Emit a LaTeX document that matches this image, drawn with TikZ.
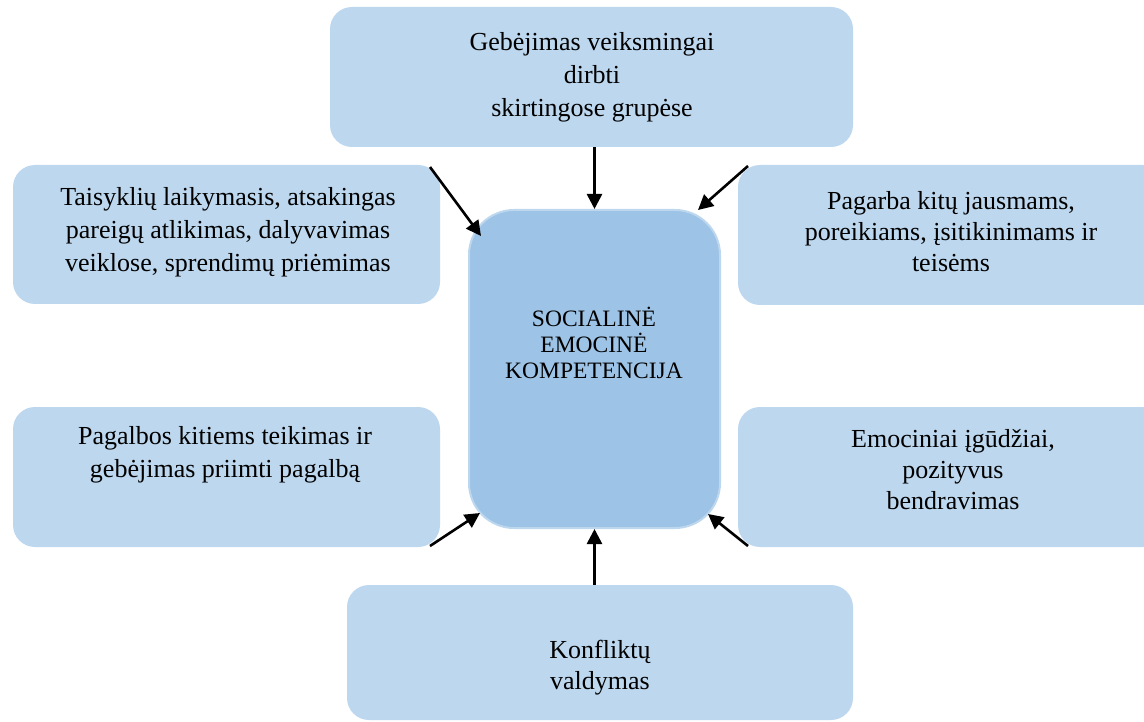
\documentclass[tikz,border=0pt]{standalone}
\usepackage{fontspec}
\setmainfont{Liberation Serif}
\usetikzlibrary{arrows.meta}
\definecolor{boxblue}{HTML}{BDD7EE}
\definecolor{coreblue}{HTML}{9DC3E6}
\begin{document}
\begin{tikzpicture}[x=1pt,y=-1pt,
  box/.style={fill=boxblue, draw=none, rounded corners=22pt, inner sep=0pt},
  corebox/.style={fill=coreblue, draw=boxblue, line width=2pt, rounded corners=45pt, inner sep=0pt},
  txt/.style={align=center, inner sep=0pt, font=\fontsize{26}{33}\selectfont, text=black},
  coretxt/.style={align=center, inner sep=0pt, font=\fontsize{23.5}{26}\selectfont, text=black},
  arr/.style={draw=black, line width=2.6pt, -{Triangle[length=15pt,width=15pt]}}]
\useasboundingbox (0,0) rectangle (1144,722);
\clip (0,0) rectangle (1144,722);
% boxes
\node[box, minimum width=523pt, minimum height=140pt] (top) at (591.5,77) {};
\node[box, minimum width=427pt, minimum height=139pt] (lt) at (226.5,234.5) {};
\node[box, minimum width=427pt, minimum height=140pt] (rt) at (951.5,235) {};
\node[box, minimum width=427pt, minimum height=140pt] (lb) at (226.5,477) {};
\node[box, minimum width=427pt, minimum height=140pt] (rb) at (951.5,477) {};
\node[box, minimum width=506pt, minimum height=135pt] (bot) at (600,652.5) {};
\node[corebox, minimum width=251pt, minimum height=318pt] (core) at (594.5,369) {};
% texts
\node[txt] (toptxt) at (592,77) {Gebėjimas veiksmingai\\dirbti\\skirtingose grupėse};
\node[txt] (lttxt) at (228,232) {Taisyklių laikymasis, atsakingas\\pareigų atlikimas, dalyvavimas\\veiklose, sprendimų priėmimas};
\node[txt, font=\fontsize{26}{31}\selectfont] (rttxt) at (951,232) {Pagarba kitų jausmams,\\poreikiams, įsitikinimams ir\\teisėms};
\node[txt] (lbtxt) at (225,455) {Pagalbos kitiems teikimas ir\\gebėjimas priimti pagalbą};
\node[txt, font=\fontsize{26}{31}\selectfont] (rbtxt) at (953,470) {Emociniai įgūdžiai,\\pozityvus\\bendravimas};
\node[txt, font=\fontsize{26}{31}\selectfont] (bottxt) at (600,668) {Konfliktų\\valdymas};
\node[coretxt] (coretext) at (594,343) {SOCIALINĖ\\EMOCINĖ\\KOMPETENCIJA};
% arrow end points
\coordinate (tls) at (430,167);
\coordinate (tle) at (481,236);
\coordinate (trs) at (748,166);
\coordinate (tre) at (698,210);
\coordinate (bls) at (430,546);
\coordinate (ble) at (480,513);
\coordinate (brs) at (748,546);
\coordinate (bre) at (708,514);
% arrows
\draw[arr] (top.south -| core.north) -- (core.north);
\draw[arr] (bot.north -| core.south) -- (core.south);
\draw[arr] (tls) -- (tle);
\draw[arr] (trs) -- (tre);
\draw[arr] (bls) -- (ble);
\draw[arr] (brs) -- (bre);
\end{tikzpicture}
\end{document}
